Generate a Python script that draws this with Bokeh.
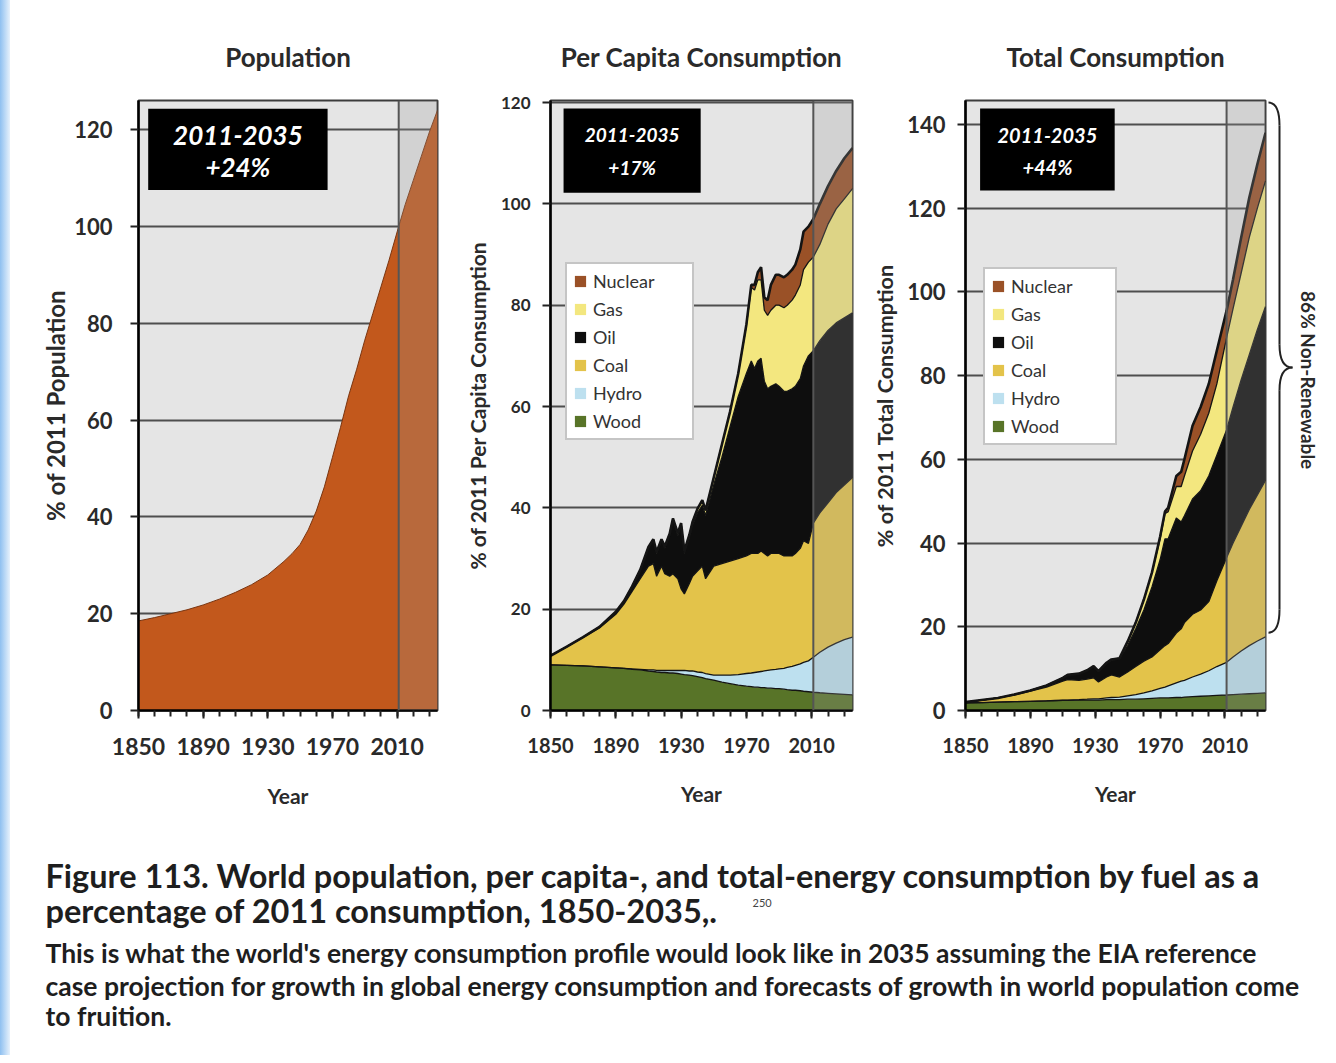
import math
from bokeh.plotting import figure
from bokeh.models import (Range1d, FixedTicker, BoxAnnotation, Span, Legend,
                          LegendItem, ColumnDataSource, Label, Spacer)
from bokeh.layouts import row, column
from bokeh.embed import file_html
from bokeh.resources import INLINE
from bokeh.core.properties import value
from bokeh.transform import stack

FONT = "Lato"

# ---------------- data ----------------
pop_years = [1850, 1860, 1870, 1880, 1890, 1900, 1910, 1920, 1930, 1940, 1945, 1950,
             1955, 1960, 1965, 1970, 1975, 1980, 1985, 1990, 1995, 2000, 2005, 2011,
             2015, 2020, 2025, 2030, 2035]
pop_pct = [18.5, 19.2, 20.0, 20.8, 21.8, 23.0, 24.4, 26.0, 28.0, 30.8, 32.4, 34.3,
           37.3, 41.2, 46.2, 52.3, 58.5, 65.0, 70.5, 76.5, 82.0, 87.5, 93.0, 100.0,
           104.5, 109.5, 114.5, 119.5, 124.0]

pc_years = [1850, 1860, 1870, 1880, 1890, 1895, 1900, 1905, 1910, 1913, 1915, 1918,
            1920, 1923, 1925, 1928, 1930, 1932, 1935, 1937, 1940, 1943, 1945, 1950,
            1955, 1960, 1965, 1970, 1973, 1975, 1977, 1979, 1981, 1983, 1985, 1988,
            1990, 1993, 1995, 1998, 2000, 2003, 2005, 2008, 2011, 2015, 2020, 2025,
            2030, 2035]
pc_wood = [9.0, 8.9, 8.8, 8.6, 8.4, 8.3, 8.1, 8.0, 7.8, 7.7, 7.6, 7.5,
           7.5, 7.4, 7.4, 7.3, 7.2, 7.1, 7.0, 6.9, 6.7, 6.5, 6.3, 6.0,
           5.6, 5.3, 5.0, 4.8, 4.7, 4.6, 4.6, 4.5, 4.5, 4.4, 4.4, 4.3,
           4.3, 4.2, 4.1, 4.0, 4.0, 3.9, 3.8, 3.7, 3.6, 3.5, 3.4, 3.3,
           3.2, 3.1]
pc_hydro = [0, 0, 0, 0, 0, 0, 0.1, 0.1, 0.2, 0.3, 0.3, 0.4,
            0.4, 0.5, 0.5, 0.6, 0.7, 0.8, 0.8, 0.9, 0.9, 1.0, 1.0, 1.0,
            1.4, 1.7, 2.1, 2.5, 2.7, 2.9, 3.0, 3.2, 3.3, 3.5, 3.6, 3.8,
            3.9, 4.1, 4.4, 4.7, 4.9, 5.3, 5.7, 6.1, 6.9, 8.0, 9.1, 10.0,
            10.8, 11.4]
pc_coal = [1.8, 3.7, 5.6, 7.7, 10.6, 12.7, 15.3, 17.9, 20.5, 21.0, 18.6, 20.6,
           19.1, 18.6, 19.1, 18.1, 16.1, 15.1, 17.2, 18.7, 19.9, 21.0, 18.7, 21.5,
           22.0, 22.5, 22.9, 23.2, 23.6, 23.5, 23.4, 23.8, 23.2, 22.6, 23.0, 22.9,
           22.8, 22.2, 22.0, 21.8, 22.1, 22.8, 24.0, 23.2, 26.5, 27.5, 28.5, 29.7,
           30.5, 31.5]
pc_oil = [0, 0, 0.1, 0.2, 0.4, 0.5, 0.8, 1.5, 3.5, 4.5, 4.5, 5.0,
          5.0, 8.0, 10.5, 8.5, 12.5, 8.0, 9.0, 10.0, 11.5, 12.0, 12.5, 16.0,
          21.0, 26.5, 32.0, 36.0, 38.0, 36.5, 38.0, 38.0, 34.0, 33.0, 33.0, 33.5,
          33.0, 32.5, 32.5, 33.0, 33.0, 33.5, 34.5, 37.0, 34.0, 34.0, 34.0, 33.5,
          33.0, 32.5]
pc_gas = [0, 0, 0, 0, 0.1, 0.1, 0.2, 0.3, 0.3, 0.3, 0.3, 0.3,
          0.4, 0.4, 0.4, 0.5, 0.5, 0.5, 0.6, 0.7, 0.8, 1.0, 1.0, 1.5,
          2.5, 3.0, 4.5, 9.5, 14.5, 15.5, 16.0, 15.5, 14.0, 14.5, 15.0, 15.5,
          16.0, 16.5, 17.0, 17.5, 18.0, 18.5, 19.0, 18.5, 18.5, 19.0, 21.0, 22.5,
          23.5, 24.5]
pc_nuclear = [0, 0, 0, 0, 0, 0, 0, 0, 0, 0, 0, 0,
              0, 0, 0, 0, 0, 0, 0, 0, 0, 0, 0, 0,
              0, 0, 0, 0.2, 0.5, 1.0, 1.5, 2.5, 2.5, 3.0, 5.0, 6.0,
              6.0, 6.0, 6.0, 6.0, 6.0, 7.0, 7.5, 7.0, 7.5, 8.0, 7.5, 7.5,
              8.0, 8.0]

tot_years = [1850, 1860, 1870, 1880, 1890, 1900, 1905, 1910, 1913, 1920, 1925, 1929,
             1932, 1937, 1940, 1945, 1950, 1955, 1960, 1965, 1970, 1973, 1975, 1980,
             1983, 1985, 1990, 1995, 2000, 2005, 2011, 2015, 2020, 2025, 2030, 2035]
tot_wood = [1.8, 1.9, 2.0, 2.1, 2.2, 2.3, 2.3, 2.4, 2.4, 2.5, 2.5, 2.5,
            2.5, 2.6, 2.6, 2.6, 2.7, 2.7, 2.8, 2.9, 3.0, 3.0, 3.0, 3.1,
            3.1, 3.2, 3.3, 3.4, 3.5, 3.6, 3.7, 3.8, 3.9, 4.0, 4.1, 4.2]
tot_hydro = [0, 0, 0, 0, 0, 0, 0.1, 0.1, 0.1, 0.1, 0.2, 0.3,
             0.3, 0.4, 0.5, 0.6, 0.8, 1.1, 1.4, 1.8, 2.3, 2.6, 2.9, 3.5,
             3.9, 4.0, 4.7, 5.3, 6.0, 6.9, 7.8, 9.0, 10.3, 11.5, 12.5, 13.4]
tot_coal = [0.2, 0.6, 1.0, 1.6, 2.4, 3.3, 3.9, 4.5, 4.9, 4.6, 4.8, 5.0,
            4.0, 5.0, 5.4, 4.8, 5.7, 6.7, 7.6, 8.1, 9.2, 9.9, 10.1, 11.9,
            12.5, 13.8, 15.0, 15.3, 16.5, 20.5, 25.0, 27.2, 29.8, 32.5, 34.9, 37.4]
tot_oil = [0, 0, 0, 0.1, 0.2, 0.4, 0.6, 0.8, 1.1, 1.6, 2.0, 2.7,
           2.5, 3.2, 3.5, 4.3, 6.3, 9.0, 12.2, 16.7, 21.5, 25.5, 25.0, 27.5,
           25.5, 25.5, 27.5, 28.5, 30.0, 30.0, 30.5, 32.5, 35.0, 37.0, 39.5, 41.5]
tot_gas = [0, 0, 0, 0, 0, 0, 0, 0, 0, 0, 0.1, 0.1,
           0.1, 0.2, 0.2, 0.2, 1.0, 1.5, 2.5, 3.5, 5.0, 6.0, 6.5, 7.5,
           8.5, 9.5, 11.5, 13.5, 15.0, 17.0, 22.0, 23.5, 25.5, 28.0, 29.0, 30.0]
tot_nuclear = [0, 0, 0, 0, 0, 0, 0, 0, 0, 0, 0, 0,
               0, 0, 0, 0, 0, 0, 0, 0, 0.5, 0.5, 1.0, 2.5,
               3.5, 4.0, 6.0, 6.5, 7.0, 8.0, 6.5, 7.0, 8.5, 9.5, 10.5, 11.5]

fuels = ["Wood", "Hydro", "Coal", "Oil", "Gas", "Nuclear"]
fuel_colors = ["#587428", "#bde0ef", "#e3c34a", "#0e0e0e", "#f3e77f", "#9a5127"]

x_ticks = [1850, 1890, 1930, 1970, 2010]
x_minor = [1850, 1860, 1870, 1880, 1890, 1900, 1910, 1920, 1930, 1940, 1950,
           1960, 1970, 1980, 1990, 2000, 2010, 2020, 2030]
year_start, year_end = 1850, 2035
proj_start = 2011
growth_labels = ["+24%", "+17%", "+44%"]
period_label = "2011-2035"


def make_panel(title, ylabel, ymax, yticks, bl, fw, br, xtick_size, ytick_size,
               ylabel_size, ylabel_standoff, ytick_standoff):
    p = figure(frame_width=fw, frame_height=610,
               x_range=Range1d(year_start, year_end), y_range=Range1d(0, ymax),
               output_backend="svg", toolbar_location=None,
               min_border_left=bl, min_border_right=br, min_border_top=100,
               min_border_bottom=120, background_fill_color="#e5e5e5",
               border_fill_color="white", outline_line_color="#3c3c3c",
               outline_line_width=2, title=title)
    p.title.align = "center"
    p.title.text_font = FONT
    p.title.text_font_size = "26px"
    p.title.text_font_style = "bold"
    p.title.text_color = "#2a2a2a"
    p.title.standoff = 56

    xt = FixedTicker(ticks=x_ticks, minor_ticks=x_minor)
    yt = FixedTicker(ticks=yticks)
    p.xaxis.ticker = xt
    p.yaxis.ticker = yt
    p.ygrid.ticker = yt
    p.xgrid.visible = False
    p.ygrid.grid_line_color = "#4e4e4e"
    p.ygrid.grid_line_width = 2

    for ax in (p.xaxis, p.yaxis):
        ax.axis_line_color = "black"
        ax.axis_line_width = 2.5
        ax.major_tick_line_color = "#222"
        ax.major_tick_line_width = 2
        ax.major_tick_out = 8
        ax.major_tick_in = 0
        ax.minor_tick_line_color = "#222"
        ax.minor_tick_line_width = 2
        ax.major_label_text_font = FONT
        ax.major_label_text_font_style = "bold"
        ax.major_label_text_color = "#2a2a2a"
        ax.axis_label_text_font = FONT
        ax.axis_label_text_font_style = "bold"
        ax.axis_label_text_color = "#2a2a2a"
    p.xaxis.minor_tick_out = 6
    p.xaxis.minor_tick_in = 0
    p.yaxis.minor_tick_out = 0
    p.yaxis.minor_tick_in = 0
    p.xaxis.major_label_text_font_size = xtick_size
    p.yaxis.major_label_text_font_size = ytick_size
    p.xaxis.major_label_standoff = 19
    p.yaxis.major_label_standoff = ytick_standoff
    p.xaxis.axis_label = "Year"
    p.xaxis.axis_label_text_font_size = "21px"
    p.xaxis.axis_label_standoff = 25
    p.yaxis.axis_label = ylabel
    p.yaxis.axis_label_text_font_size = ylabel_size
    p.yaxis.axis_label_standoff = ylabel_standoff
    return p


def add_projection(p):
    p.add_layout(BoxAnnotation(left=proj_start, fill_color="#9a9a9a",
                               fill_alpha=0.25, line_color=None))
    p.add_layout(Span(location=proj_start, dimension="height",
                      line_color="#555555", line_width=2))


def add_badge(p, left, right, top, bottom, y1, y2, growth, size):
    p.add_layout(BoxAnnotation(left=left, right=right, top=top, bottom=bottom,
                               fill_color="black", fill_alpha=1, line_color=None))
    cx = (left + right) / 2
    for yy, txt in ((y1, period_label), (y2, growth)):
        p.add_layout(Label(x=cx, y=yy, text=txt, text_color="white",
                           text_font=FONT, text_font_style="bold italic",
                           text_font_size=size, text_align="center",
                           text_baseline="middle"))


def add_stack(p, years, cols, legend_loc, label_w):
    data = dict(year=years)
    for name, vals in zip(fuels, cols):
        data[name] = vals
    src = ColumnDataSource(data)
    rends = p.varea_stack(stackers=fuels, x="year", color=fuel_colors, source=src)
    for k in range(len(fuels)):
        p.line(x="year", y=stack(*fuels[:k + 1]), source=src,
               line_color="#141414", line_width=2.6 if k == len(fuels) - 1 else 1.3)
    add_projection(p)
    items = [LegendItem(label=n, renderers=[r]) for n, r in zip(fuels, rends)][::-1]
    leg = Legend(items=items, location=legend_loc, border_line_color="#8c8c8c",
                 border_line_width=2, background_fill_color="white",
                 background_fill_alpha=1, label_text_font=FONT,
                 label_text_font_size="18px", label_text_color="#333333",
                 glyph_width=14, glyph_height=14, label_height=22, spacing=6,
                 padding=6, margin=0, label_standoff=6, label_width=label_w)
    p.add_layout(leg)


# ---------------- panel 1: population ----------------
p1 = make_panel("Population", "% of 2011 Population", 126, [0, 20, 40, 60, 80, 100, 120],
                128, 299, 13, "23px", "22px", "24px", 1, 18)
src_pop = ColumnDataSource(dict(year=pop_years, pop=pop_pct))
p1.varea(x="year", y1=0, y2="pop", source=src_pop, fill_color="#c2581c")
p1.line(x="year", y="pop", source=src_pop, line_color="#7a3510", line_width=1)
add_projection(p1)
add_badge(p1, 1856, 1967, 124.3, 107.5, 118.8, 112.2, growth_labels[0], "26px")

# ---------------- panel 2: per capita ----------------
p2 = make_panel("Per Capita Consumption", "% of 2011 Per Capita Consumption", 120.4,
                [0, 20, 40, 60, 80, 100, 120], 100, 302, 8, "20px", "17px", "21px", 8, 12)
add_stack(p2, pc_years, [pc_wood, pc_hydro, pc_coal, pc_oil, pc_gas, pc_nuclear],
          (15, 270), 93)
add_badge(p2, 1858, 1942, 118.8, 102.2, 113.5, 107.2, growth_labels[1], "19px")

# ---------------- panel 3: total ----------------
p3 = make_panel("Total Consumption", "% of 2011 Total Consumption", 145.7,
                [0, 20, 40, 60, 80, 100, 120, 140], 105, 300, 2, "20px", "22px", "21.5px", 6, 12)
add_stack(p3, tot_years, [tot_wood, tot_hydro, tot_coal, tot_oil, tot_gas, tot_nuclear],
          (18, 265), 98)
add_badge(p3, 1859, 1942, 143.8, 124.2, 137.4, 129.7, growth_labels[2], "20px")

# ---------------- brace to the right of panel 3 ----------------
pb = figure(frame_width=61, frame_height=610, x_range=Range1d(0, 61), y_range=p3.y_range,
            min_border_left=0, min_border_right=0, min_border_top=100, min_border_bottom=120,
            x_axis_location=None, y_axis_location=None, toolbar_location=None,
            output_backend="svg", outline_line_color=None, background_fill_color="white")
pb.grid.visible = False
b_top = p3.y_range.end - 0.5
b_bot = tot_wood[-1] + tot_hydro[-1] + 1.0
b_mid = (b_top + b_bot) / 2
x0, xs, xt, r = 1, 12, 25, 5.5
pb.quadratic(x0=[x0, xs, xt, xs], y0=[b_top, b_mid + r, b_mid, b_bot + r],
             x1=[xs, xt, xs, x0], y1=[b_top - r, b_mid, b_mid - r, b_bot],
             cx=[xs, xs, xs, xs], cy=[b_top, b_mid, b_mid, b_bot],
             line_color="#222222", line_width=2)
pb.segment(x0=[xs, xs], y0=[b_top - r, b_mid - r], x1=[xs, xs], y1=[b_mid + r, b_bot + r],
           line_color="#222222", line_width=2)
pb.text(x=[41], y=[b_mid - 3], text=["86% Non-Renewable"], angle=-math.pi / 2,
        text_font=value(FONT), text_font_style="bold", text_font_size="19px",
        text_color="#2a2a2a", text_align="center", text_baseline="middle")

# ---------------- caption ----------------
cap_bold = ["Figure 113. World population, per capita-, and total-energy consumption by fuel as a",
            "percentage of 2011 consumption, 1850-2035,."]
cap_body = ["This is what the world's energy consumption profile would look like in 2035 assuming the EIA reference",
            "case projection for growth in global energy consumption and forecasts of growth in world population come",
            "to fruition."]
pc = figure(width=1318, height=225, x_range=Range1d(10, 1328), y_range=Range1d(225, 0),
            min_border=0, x_axis_location=None, y_axis_location=None,
            toolbar_location=None, output_backend="svg", outline_line_color=None)
pc.grid.visible = False
pc.text(x=[45, 45], y=[45, 80], text=cap_bold, text_font=value(FONT),
        text_font_style="bold", text_font_size="32.5px", text_color="#1e1e1e",
        text_baseline="middle", text_align="left")
pc.text(x=[752], y=[72], text=["250"], text_font=value(FONT), text_font_size="11px",
        text_color="#444444", text_baseline="middle", text_align="left")
pc.text(x=[45, 45, 45], y=[122, 155, 185], text=cap_body, text_font=value(FONT),
        text_font_style="bold", text_font_size="26.5px", text_color="#1e1e1e",
        text_baseline="middle", text_align="left")

edge = Spacer(width=10, height=1055,
              styles={"background": "linear-gradient(to right, #8fc0f0, #e6f1fc)"})
layout = row(edge, column(row(p1, p2, p3, pb), pc))
open("out.html", "w").write(file_html(layout, INLINE))
